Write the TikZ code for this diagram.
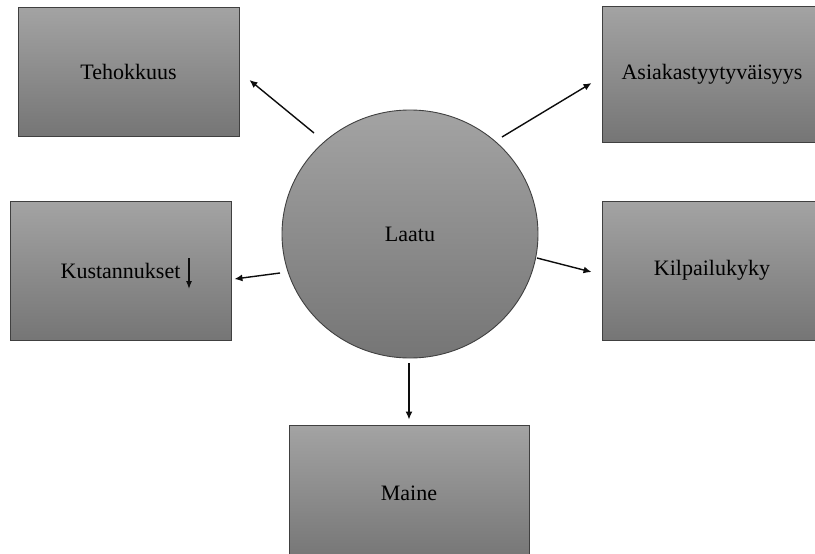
\documentclass[tikz,border=0pt]{standalone}
\usepackage{fontspec}
\setmainfont{Liberation Serif}
\usetikzlibrary{shapes.geometric,arrows.meta}
\begin{document}
\begin{tikzpicture}[x=1pt,y=-1pt,
  box/.style={draw=black!75, line width=0.9pt, top color=black!36, bottom color=black!54,
    inner sep=0pt, font=\fontsize{22}{26}\selectfont, text=black},
  arr/.style={-{Latex[length=8pt,width=7pt]}, line width=1.4pt, draw=black!95},
  smallarr/.style={-{Latex[length=8pt,width=6pt]}, line width=1.3pt, draw=black!95}]
\useasboundingbox (0,0) rectangle (815,554);
\clip (0,0) rectangle (815,554);
\fill[white] (0,0) rectangle (815,554);

\node[box, minimum width=221pt, minimum height=129pt] (teho) at (128.5,71.5) {Tehokkuus};
\node[box, minimum width=220pt, minimum height=136pt] (asia) at (712,74) {Asiakastyytyväisyys};
\node[box, minimum width=221pt, minimum height=139pt] (kust) at (120.5,270.5) {Kustannukset};
\node[box, minimum width=220pt, minimum height=139pt] (kilp) at (712,270.5) {Kilpailukyky};
\node[box, minimum width=240pt, minimum height=136pt] (maine) at (409,493) {Maine};
\node[box, ellipse, minimum width=256pt, minimum height=248pt] (laatu) at (410,234) {Laatu};

\draw[smallarr] ([xshift=68.5pt,yshift=12.5pt]kust.center) -- ([xshift=68.5pt,yshift=-18.5pt]kust.center);

\draw[arr] ([xshift=-96pt,yshift=101pt]laatu.center) -- ([xshift=10pt,yshift=-8.5pt]teho.east);
\draw[arr] ([xshift=92pt,yshift=97pt]laatu.center) -- ([xshift=-10pt,yshift=-9pt]asia.west);
\draw[arr] ([xshift=-130pt,yshift=-39pt]laatu.center) -- ([xshift=3pt,yshift=-8.5pt]kust.east);
\draw[arr] ([xshift=127pt,yshift=-24pt]laatu.center) -- ([xshift=-10pt,yshift=-1.5pt]kilp.west);
\draw[arr] ([xshift=-1pt,yshift=-129pt]laatu.center) -- ([xshift=0pt,yshift=5pt]maine.north);
\end{tikzpicture}
\end{document}
